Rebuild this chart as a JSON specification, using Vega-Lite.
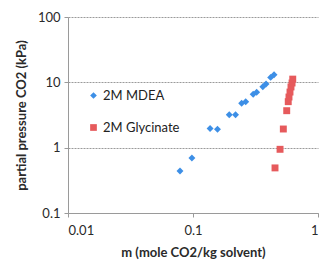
{
  "$schema": "https://vega.github.io/schema/vega-lite/v6.json",
  "width": 250,
  "height": 196,
  "autosize": {"type": "none"},
  "padding": {"left": 68, "top": 17, "right": 3, "bottom": 47},
  "background": "#ffffff",
  "config": {
    "view": {"stroke": null},
    "font": "Lato",
    "axis": {"labelColor": "#2a2a2a", "titleColor": "#2a2a2a", "labelFont": "Lato", "titleFont": "Lato"}
  },
  "data": {
    "values": [
      {"m": 0.0787, "p": 0.44, "s": "2M MDEA"},
      {"m": 0.098, "p": 0.695, "s": "2M MDEA"},
      {"m": 0.137, "p": 1.96, "s": "2M MDEA"},
      {"m": 0.157, "p": 1.91, "s": "2M MDEA"},
      {"m": 0.195, "p": 3.2, "s": "2M MDEA"},
      {"m": 0.219, "p": 3.2, "s": "2M MDEA"},
      {"m": 0.245, "p": 4.78, "s": "2M MDEA"},
      {"m": 0.264, "p": 5.05, "s": "2M MDEA"},
      {"m": 0.303, "p": 6.56, "s": "2M MDEA"},
      {"m": 0.323, "p": 7.04, "s": "2M MDEA"},
      {"m": 0.362, "p": 8.57, "s": "2M MDEA"},
      {"m": 0.384, "p": 9.42, "s": "2M MDEA"},
      {"m": 0.418, "p": 11.9, "s": "2M MDEA"},
      {"m": 0.445, "p": 13.1, "s": "2M MDEA"},
      {"m": 0.453, "p": 0.49, "s": "2M Glycinate"},
      {"m": 0.497, "p": 0.944, "s": "2M Glycinate"},
      {"m": 0.528, "p": 1.93, "s": "2M Glycinate"},
      {"m": 0.562, "p": 3.68, "s": "2M Glycinate"},
      {"m": 0.578, "p": 5.06, "s": "2M Glycinate"},
      {"m": 0.586, "p": 5.96, "s": "2M Glycinate"},
      {"m": 0.597, "p": 7.1, "s": "2M Glycinate"},
      {"m": 0.608, "p": 8.5, "s": "2M Glycinate"},
      {"m": 0.62, "p": 9.77, "s": "2M Glycinate"},
      {"m": 0.628, "p": 11.2, "s": "2M Glycinate"}
    ]
  },
  "mark": {"type": "point", "filled": true, "opacity": 1},
  "encoding": {
    "x": {
      "field": "m", "type": "quantitative",
      "scale": {"type": "log", "domain": [0.01, 1], "nice": false},
      "axis": {
        "title": "m (mole CO2/kg solvent)", "values": [0.01, 0.1, 1], "format": "~g",
        "grid": false, "domainColor": "#9a9a9a", "tickColor": "#9a9a9a", "tickSize": 4,
        "labelFontSize": 13, "labelPadding": 7, "titleFontSize": 13, "titleFontWeight": "bold", "titlePadding": 9
      }
    },
    "y": {
      "field": "p", "type": "quantitative",
      "scale": {"type": "log", "domain": [0.1, 100], "nice": false},
      "axis": {
        "title": "partial pressure CO2 (kPa)", "values": [0.1, 1, 10, 100], "format": "~g",
        "grid": true, "gridColor": "#9a9a9a", "gridDash": [2, 1], "gridWidth": 1,
        "domainColor": "#9a9a9a", "tickColor": "#9a9a9a", "tickSize": 4,
        "labelFontSize": 13, "labelPadding": 4, "titleFontSize": 13, "titleFontWeight": "bold", "titlePadding": 9
      }
    },
    "color": {
      "field": "s", "type": "nominal",
      "scale": {"domain": ["2M MDEA", "2M Glycinate"], "range": ["#3d8fe6", "#e65a5c"]},
      "legend": {
        "title": null, "orient": "none", "legendX": 19, "legendY": 72,
        "labelFontSize": 13, "labelColor": "#222222", "rowPadding": 18, "symbolSize": 45, "labelOffset": 3
      }
    },
    "shape": {
      "field": "s", "type": "nominal",
      "scale": {"domain": ["2M MDEA", "2M Glycinate"], "range": ["diamond", "square"]},
      "legend": null
    },
    "size": {"value": 48}
  }
}
